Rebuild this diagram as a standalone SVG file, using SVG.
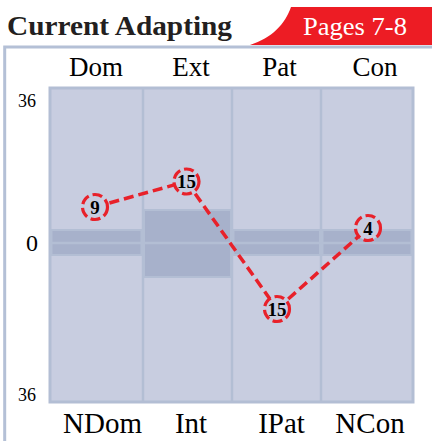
<svg xmlns="http://www.w3.org/2000/svg" width="432" height="441" viewBox="0 0 432 441">
<style>
.serif{font-family:"Liberation Serif","Times New Roman",serif;}
.title{font-size:28px;font-weight:bold;fill:#231f20;}
.tab{font-size:25px;fill:#ffffff;}
.hdr{font-size:27px;fill:#000;text-anchor:middle;}
.ftr{font-size:29px;fill:#000;text-anchor:middle;}
.axis{font-size:18px;fill:#000;}
.grid{stroke:#b3bed4;fill:none;}
.band{fill:#a7b1cb;stroke:#b3bed4;stroke-width:2;}
.conn{stroke:#e8212a;stroke-width:3.5;stroke-dasharray:10,5;fill:none;}
.pt circle{fill:#c8cde0;stroke:#e8212a;stroke-width:3.2;stroke-dasharray:10,4;}
.pt text{font-family:"Liberation Serif","Times New Roman",serif;font-size:19px;font-weight:bold;fill:#000;text-anchor:middle;}
</style>
<rect width="432" height="441" fill="#ffffff"/>
<path d="M250,45 C272,38 285,24 291,7 L432,7 L432,45 Z" fill="#ed1c24"/>
<text class="serif title" x="7" y="35" textLength="225" lengthAdjust="spacingAndGlyphs">Current Adapting</text>
<text class="serif tab" x="303" y="35" textLength="104" lengthAdjust="spacingAndGlyphs">Pages 7-8</text>
<path d="M4.7,441 L4.7,47 L432,47" stroke="#b4c0d6" stroke-width="3" fill="none"/>
<rect x="50" y="88" width="363" height="314" fill="#c8cde0"/>
<g id="bands">
<rect class="band" x="51.5" y="230" width="90" height="25"/>
<rect class="band" x="144" y="210" width="87" height="67"/>
<rect class="band" x="233.5" y="230" width="86.5" height="25"/>
<rect class="band" x="322.5" y="230" width="89" height="25"/>
<line class="grid" x1="50" y1="243" x2="413" y2="243" stroke-width="2.5"/>
</g>
<rect class="grid" x="50" y="88" width="363" height="314" stroke-width="3"/>
<line class="grid" x1="143" y1="88" x2="143" y2="402" stroke-width="2.5"/>
<line class="grid" x1="232" y1="88" x2="232" y2="402" stroke-width="2.5"/>
<line class="grid" x1="321" y1="88" x2="321" y2="402" stroke-width="2.5"/>
<text class="serif hdr" x="96" y="76">Dom</text>
<text class="serif hdr" x="191" y="76">Ext</text>
<text class="serif hdr" x="279.5" y="76">Pat</text>
<text class="serif hdr" x="375" y="76">Con</text>
<text class="serif ftr" x="102.5" y="433">NDom</text>
<text class="serif ftr" x="191" y="433">Int</text>
<text class="serif ftr" x="281.5" y="433">IPat</text>
<text class="serif ftr" x="370" y="433">NCon</text>
<text class="serif axis" x="18" y="107">36</text>
<text class="serif axis" x="18" y="401">36</text>
<text class="serif" x="26" y="251" font-size="24">0</text>
<g id="connectors">
<line class="conn" x1="95" y1="207" x2="186.5" y2="181.5"/>
<line class="conn" x1="186.5" y1="181.5" x2="277" y2="309"/>
<line class="conn" x1="277" y1="309" x2="368" y2="228"/>
</g>
<g id="node-dom" class="pt"><circle cx="95" cy="207" r="12.5"/><text x="95" y="213.5">9</text></g>
<g id="node-ext" class="pt"><circle cx="186.5" cy="181.5" r="12.5"/><text x="186.5" y="188">15</text></g>
<g id="node-pat" class="pt"><circle cx="277" cy="309" r="12.5"/><text x="277" y="315.5">15</text></g>
<g id="node-con" class="pt"><circle cx="368" cy="228" r="12.5"/><text x="368" y="234.5">4</text></g>
</svg>
